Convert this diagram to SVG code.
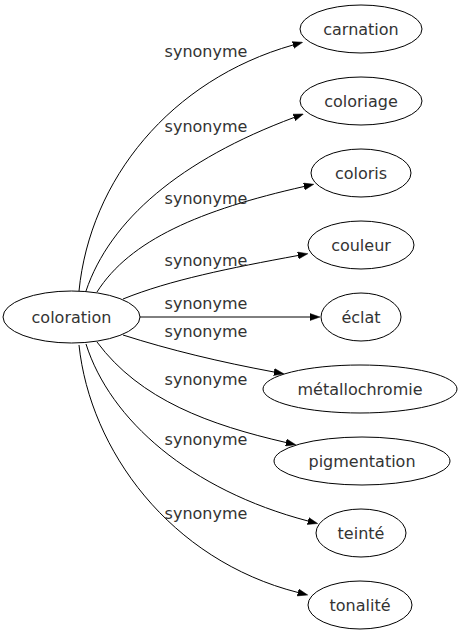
<svg xmlns="http://www.w3.org/2000/svg" width="462" height="635" viewBox="0 0 462 635">
<style>
  .node ellipse { fill: #ffffff; stroke: #000000; stroke-width: 1; }
  .node text { font-family: "DejaVu Sans", sans-serif; font-size: 16px; fill: #333333; text-anchor: middle; }
  .edge path { fill: none; stroke: #000000; stroke-width: 1; marker-end: url(#arrow); }
  .elabel { font-family: "DejaVu Sans", sans-serif; font-size: 16px; fill: #333333; text-anchor: middle; }
</style>
<defs>
  <marker id="arrow" markerUnits="userSpaceOnUse" markerWidth="10" markerHeight="8" viewBox="0 0 10 8" refX="0" refY="4" orient="auto">
    <path d="M0,0.5 L10,4 L0,7.5 z" fill="#000000" stroke="#000000" stroke-width="0.5"/>
  </marker>
</defs>
<rect width="462" height="635" fill="#ffffff"/>
<g id="edges">
  <g class="edge"><path d="M79,291 C90,180 170,80 293,45"/><text class="elabel" x="206" y="57">synonyme</text></g>
  <g class="edge"><path d="M86,291 C110,220 180,160 294,117.5"/><text class="elabel" x="206" y="132">synonyme</text></g>
  <g class="edge"><path d="M97,292 C130,240 200,210 304,186.5"/><text class="elabel" x="206" y="204">synonyme</text></g>
  <g class="edge"><path d="M123,299 C170,280 230,268 298,255.5"/><text class="elabel" x="206" y="266">synonyme</text></g>
  <g class="edge"><path d="M140,317 L310,317"/><text class="elabel" x="206" y="309">synonyme</text></g>
  <g class="edge"><path d="M123,335 C170,350 220,362 274,372"/><text class="elabel" x="206" y="337">synonyme</text></g>
  <g class="edge"><path d="M97,342 C140,400 210,425 286,442.5"/><text class="elabel" x="206" y="385">synonyme</text></g>
  <g class="edge"><path d="M86,344 C110,420 190,490 308,521"/><text class="elabel" x="206" y="445">synonyme</text></g>
  <g class="edge"><path d="M79,345 C90,450 170,560 298,592.5"/><text class="elabel" x="206" y="519">synonyme</text></g>
</g>
<g id="coloration" class="node"><ellipse cx="71.5" cy="317" rx="68.5" ry="26"/><text x="71.5" y="323">coloration</text></g>
<g id="carnation" class="node"><ellipse cx="361" cy="29" rx="61" ry="24"/><text x="361" y="35">carnation</text></g>
<g id="coloriage" class="node"><ellipse cx="361" cy="101" rx="61" ry="24"/><text x="361" y="107">coloriage</text></g>
<g id="coloris" class="node"><ellipse cx="361" cy="173" rx="50" ry="24"/><text x="361" y="179">coloris</text></g>
<g id="couleur" class="node"><ellipse cx="361" cy="245" rx="53" ry="24"/><text x="361" y="251">couleur</text></g>
<g id="eclat" class="node"><ellipse cx="361" cy="317" rx="40" ry="24"/><text x="361" y="323">éclat</text></g>
<g id="metallochromie" class="node"><ellipse cx="360" cy="389" rx="97" ry="24"/><text x="360" y="395">métallochromie</text></g>
<g id="pigmentation" class="node"><ellipse cx="362" cy="461" rx="88" ry="24"/><text x="362" y="467">pigmentation</text></g>
<g id="teinte" class="node"><ellipse cx="361" cy="533" rx="45" ry="24"/><text x="361" y="539">teinté</text></g>
<g id="tonalite" class="node"><ellipse cx="360" cy="605" rx="52" ry="24"/><text x="360" y="611">tonalité</text></g>
</svg>
